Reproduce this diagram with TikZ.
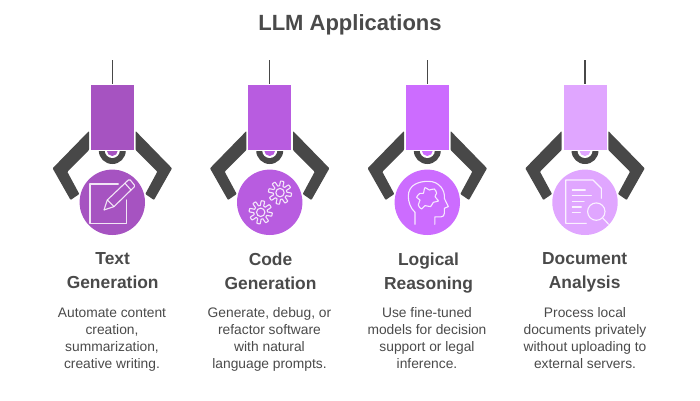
\documentclass[tikz,border=0pt]{standalone}
\usepackage{fontspec}
\setmainfont{Liberation Sans}
\definecolor{clawgrey}{HTML}{484848}
\definecolor{inktext}{HTML}{4A4A4A}
\definecolor{plumA}{HTML}{A653C1}
\definecolor{plumB}{HTML}{B85CE0}
\definecolor{plumC}{HTML}{CC6CFF}
\definecolor{plumD}{HTML}{E0A6FF}
\tikzset{
  titletext/.style={font=\bfseries\fontsize{22}{26}\selectfont, text=inktext},
  headtext/.style={font=\bfseries\fontsize{17.4}{24}\selectfont, text=inktext, align=center, execute at begin node=\strut, execute at end node=\strut},
  desctext/.style={font=\fontsize{13.8}{17}\selectfont, text=inktext, align=center, execute at begin node=\strut, execute at end node=\strut},
  bodybox/.style={draw=white, line width=0.8pt, minimum width=44pt, minimum height=66.5pt, inner sep=0pt},
  rodline/.style={draw=clawgrey, line width=1.3pt},
  iconline/.style={draw=white, draw opacity=0.85, line width=1.1pt, line join=round, line cap=round},
  pics/grabber/.style={code={
    \coordinate (-top) at (0,60);
    \fill[clawgrey, rounded corners=0.8pt] (-23.3,131) -- (-59.7,168.3) -- (-41.7,200) -- (-33,194) -- (-45,171.7) -- (-23.3,150) -- cycle;
    \fill[clawgrey, rounded corners=0.8pt] (23.3,131) -- (59.7,168.3) -- (41.7,200) -- (33,194) -- (45,171.7) -- (23.3,150) -- cycle;
    \fill[clawgrey] (-13.5,150.5) arc[start angle=180, end angle=0, radius=13.5] -- cycle;
    \fill[white] (-7.5,150.5) arc[start angle=180, end angle=0, radius=7.5] -- cycle;
    \fill[#1] (-5.5,150.5) arc[start angle=180, end angle=0, radius=5.5] -- cycle;
    \node[bodybox, fill=#1] (-body) at (0,117.3) {};
    \draw[rodline] (-top) -- (-body);
    \fill[#1] (0,202.3) circle[radius=32.7];
  }}
}
\begin{document}
\begin{tikzpicture}[x=1pt, y=-1pt]
\useasboundingbox (0,0) rectangle (700,400);
\node[titletext] (title) at (350,25) {LLM Applications};

% The four grabbers
\pic (textgrab) at (112.3,0) {grabber=plumA};
\pic (codegrab) at (269.7,0) {grabber=plumB};
\pic (logicgrab) at (427.3,0) {grabber=plumC};
\pic (docgrab) at (585,0) {grabber=plumD};

% Pencil on a sheet
\begin{scope}[shift={(112.3,202.3)}]
\draw[iconline] (6,-18.3) -- (-22.3,-18.3) -- (-22.3,21) -- (14.3,21) -- (14.3,-2.3);
\draw[iconline] (-8.3,7.7) -- (-5,-2.3) -- (16,-22.3) -- (18,-22.3) -- (22,-17.3) -- (22,-15.5) -- (1.7,4.3) -- cycle;
\draw[iconline] (-5,-2.3) -- (1.7,4.3);
\draw[iconline] (12.7,-19) -- (18.7,-12.3);
\end{scope}

% Two gears
\begin{scope}[shift={(269.7,202.3)}]
\draw[iconline, shift={(10.3,-9.7)}] plot[samples=145, domain=0:360] (\x:{9.2+2.4*max(-1,min(1,2.5*sin(8*\x)))}) -- cycle;
\draw[iconline] (10.3,-9.7) circle[radius=4.2];
\draw[iconline, shift={(-9,10)}] plot[samples=145, domain=0:360] (\x:{9.2+2.4*max(-1,min(1,2.5*sin(8*\x)))}) -- cycle;
\draw[iconline] (-9,10) circle[radius=4.2];
\end{scope}

% Head with a puzzle brain
\begin{scope}[shift={(427.3,202.3)}]
\draw[iconline] (-12.3,22) -- (-12.3,10) .. controls (-17,6) and (-19,-1) .. (-19,-6) .. controls (-19,-18) and (-8,-21) .. (1,-21) .. controls (12,-21) and (18,-12) .. (17,-4) -- (21,4.3) -- (17,6) -- (17,11) .. controls (17,13) and (16,14.5) .. (14,14.5) -- (7.5,14.5) -- (7.5,22);
\draw[iconline] plot[smooth cycle, tension=0.6] coordinates {(-2.3,-14.7) (2,-12.3) (7,-13.3) (9.3,-9) (7.7,-5.7) (11,-1.3) (6,0) (3.3,4.3) (-2.3,3.3) (-5.7,6.7) (-9,2.7) (-7.3,-2.3) (-10.7,-5) (-7.3,-9) (-4,-9)};
\end{scope}

% Sheet with a magnifier
\begin{scope}[shift={(585,202.3)}]
\draw[iconline] (1.3,21) -- (-19.3,21) -- (-19.3,-22.3) -- (8,-22.3) -- (16.3,-14) -- (16.3,-4);
\draw[iconline] (-12.7,-12.3) -- (0.3,-12.3);
\draw[iconline] (-12.7,-6.7) -- (6.3,-6.7);
\draw[iconline] (-12.7,-1) -- (-1,-1);
\draw[iconline] (-12.7,4.7) -- (-3.7,4.7);
\draw[iconline] (-12.7,10.3) -- (-4.7,10.3);
\draw[iconline] (11.3,9.3) circle[radius=8.7];
\draw[iconline] (18,16) -- (23.7,22);
\end{scope}

% Headings
\node[headtext] (texthead) at (112.7,274.5) {Text\\Generation};
\node[headtext] (codehead) at (270.5,274.5) {Code\\Generation};
\node[headtext] (logichead) at (428.5,274.5) {Logical\\Reasoning};
\node[headtext] (dochead) at (584.7,274.5) {Document\\Analysis};

% Descriptions
\node[desctext] (textdesc) at (112,340.6) {Automate content\\creation,\\summarization,\\creative writing.};
\node[desctext] (codedesc) at (269.5,340.6) {Generate, debug, or\\refactor software\\with natural\\language prompts.};
\node[desctext] (logicdesc) at (427,340.6) {Use fine-tuned\\models for decision\\support or legal\\inference.};
\node[desctext] (docdesc) at (585,340.6) {Process local\\documents privately\\without uploading to\\external servers.};
\end{tikzpicture}
\end{document}
